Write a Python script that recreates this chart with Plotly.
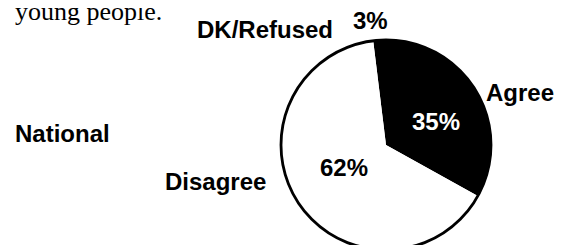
import plotly.graph_objects as go

W, H = 565, 245

# Data
categories = ["Agree", "Disagree", "DK/Refused"]
values = [35, 62, 3]
slice_colors = ["#000000", "#ffffff", "#ffffff"]
group_label = "National"
caption_text = "young people."

BOLD = dict(family="Liberation Sans, Arial, Helvetica, sans-serif", size=24, color="black", weight="bold")

def px(x):
    return x / W

def py(y):
    return 1 - y / H

# pie placement (pixels)
cx, cy, r = 378, 137, 105
dom_x = [px(cx - r), px(cx + r)]
dom_y = [py(cy + r), py(cy - r)]

fig = go.Figure()
fig.add_trace(go.Pie(
    labels=categories, values=values, sort=False, direction="clockwise", rotation=-7,
    marker=dict(colors=slice_colors, line=dict(width=0)),
    textinfo="none", hoverinfo="skip", showlegend=False,
    domain=dict(x=dom_x, y=dom_y),
))
# outline ring
fig.add_trace(go.Pie(
    labels=["outline"], values=[1], sort=False,
    marker=dict(colors=["rgba(0,0,0,0)"], line=dict(color="black", width=2.8)),
    textinfo="none", hoverinfo="skip", showlegend=False,
    domain=dict(x=dom_x, y=dom_y),
))

pct = {c: f"{v}%" for c, v in zip(categories, values)}

ann = [
    (caption_text, 5, 3, "left", dict(family="Liberation Serif, Times New Roman, serif", size=26, color="black")),
    (categories[2], 187, 22, "left", BOLD),
    (pct["DK/Refused"], 343, 13, "left", BOLD),
    (categories[0], 476, 84, "left", BOLD),
    (pct["Agree"], 428, 113, "center", dict(BOLD, color="white")),
    (pct["Disagree"], 336, 159, "center", BOLD),
    (categories[1], 207, 173, "center", BOLD),
    (group_label, 5, 125, "left", BOLD),
]
for text, x, y, xa, font in ann:
    fig.add_annotation(text=text, x=px(x), y=py(y), xref="paper", yref="paper",
                       xanchor=xa, yanchor="middle", showarrow=False, font=font)

fig.update_layout(
    width=W, height=H, margin=dict(l=0, r=0, t=0, b=0),
    paper_bgcolor="white", plot_bgcolor="white",
)
fig.write_html("out.html")
